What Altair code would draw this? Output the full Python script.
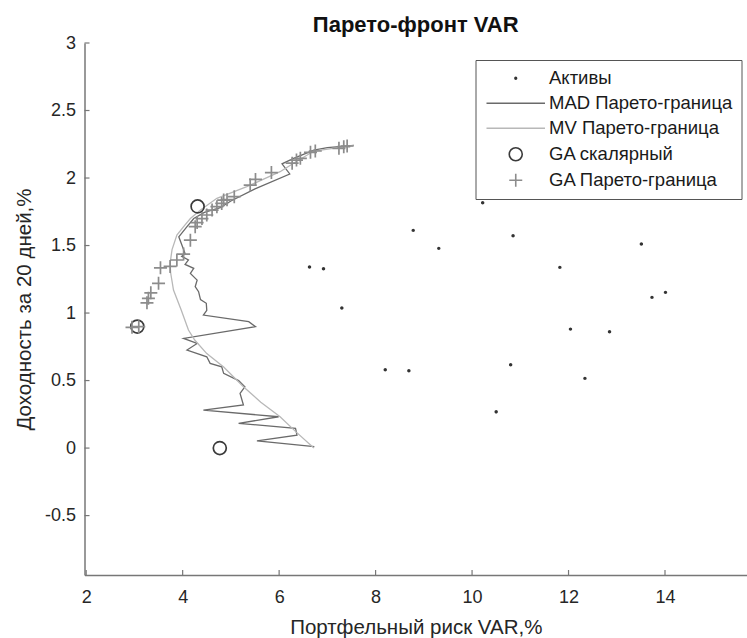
import altair as alt
import pandas as pd

# ---------------- data ----------------
assets_x = [10.22, 8.78, 9.31, 10.85, 13.51, 6.63, 6.92, 11.82, 13.73, 14.01,
            7.30, 12.04, 12.85, 8.20, 8.69, 10.80, 12.34, 10.50]
assets_y = [1.817, 1.612, 1.479, 1.573, 1.511, 1.341, 1.328, 1.338, 1.116, 1.153,
            1.037, 0.881, 0.862, 0.580, 0.573, 0.617, 0.516, 0.269]

mad_x = [6.73, 5.54, 6.37, 6.34, 5.16, 5.99, 4.43, 5.26, 5.19, 5.29, 5.16, 4.85,
         4.81, 4.57, 4.50, 4.09, 4.30, 4.02, 5.51, 5.37, 4.43, 4.50, 4.49, 4.37,
         4.33, 4.26, 4.30, 4.16, 4.23, 4.05, 4.12, 3.98, 4.05, 3.92, 4.09, 4.23,
         4.45, 4.78, 5.00, 5.50, 6.22, 6.06, 6.30, 6.72, 7.00, 7.55]
mad_y = [0.01, 0.054, 0.096, 0.146, 0.183, 0.232, 0.281, 0.319, 0.405, 0.454, 0.50, 0.553,
         0.602, 0.627, 0.676, 0.726, 0.775, 0.812, 0.899, 0.936, 0.985, 1.02, 1.072, 1.10,
         1.158, 1.195, 1.244, 1.294, 1.331, 1.36, 1.393, 1.42, 1.44, 1.565, 1.64, 1.70,
         1.745, 1.78, 1.83, 1.92, 2.03, 2.105, 2.146, 2.207, 2.225, 2.242]

mv_x = [6.72, 6.35, 6.02, 5.62, 5.26, 4.85, 4.50, 4.25, 4.12, 3.97, 3.81, 3.75,
        3.74, 3.78, 3.88, 4.02, 4.16, 4.37, 4.71, 5.33, 6.02, 6.30, 6.72, 7.55]
mv_y = [0.0, 0.12, 0.232, 0.34, 0.454, 0.60, 0.70, 0.80, 0.874, 1.022, 1.17, 1.30,
        1.37, 1.47, 1.578, 1.64, 1.70, 1.763, 1.85, 1.936, 2.047, 2.109, 2.20, 2.242]

gas_x = [4.31, 3.06, 4.77]
gas_y = [1.79, 0.90, 0.00]

gap_x = [2.95, 3.09, 3.26, 3.29, 3.34, 3.50, 3.54, 3.74, 3.88, 4.02, 4.16, 4.26,
         4.30, 4.40, 4.50, 4.61, 4.71, 4.81, 4.85, 4.92, 5.07, 5.40, 5.51, 5.84,
         6.27, 6.36, 6.44, 6.65, 6.75, 7.24, 7.34, 7.41]
gap_y = [0.894, 0.899, 1.076, 1.109, 1.15, 1.22, 1.335, 1.345, 1.393, 1.437, 1.54, 1.64,
         1.67, 1.70, 1.726, 1.763, 1.788, 1.812, 1.837, 1.84, 1.862, 1.948, 1.99, 2.04,
         2.11, 2.133, 2.146, 2.19, 2.20, 2.22, 2.232, 2.237]

x_ticks = [2, 4, 6, 8, 10, 12, 14]
y_ticks = [-0.5, 0, 0.5, 1, 1.5, 2, 2.5, 3]

S_ASSET = "Активы"
S_MAD = "MAD Парето-граница"
S_MV = "MV Парето-граница"
S_GAS = "GA скалярный"
S_GAP = "GA Парето-граница"
series_domain = [S_ASSET, S_MAD, S_MV, S_GAS, S_GAP]
series_colors = ["#333333", "#6a6a6a", "#b8b8b8", "#3a3a3a", "#8c8c8c"]
DOT = "M-0.13,0A0.13,0.13 0 1,0 0.13,0A0.13,0.13 0 1,0 -0.13,0Z"
LINE = "M-4.5,0L4.5,0"
PLUS = "M-1,0L1,0M0,-1L0,1"
series_shapes = [DOT, LINE, LINE, "circle", PLUS]

FONT = "Liberation Sans"
W, H = 662.5, 532
SYM = 169

# ---------------- frames ----------------
pts = pd.concat([
    pd.DataFrame({"x": assets_x, "y": assets_y, "series": S_ASSET}),
    pd.DataFrame({"x": gas_x, "y": gas_y, "series": S_GAS}),
    pd.DataFrame({"x": gap_x, "y": gap_y, "series": S_GAP}),
], ignore_index=True)

lines = pd.concat([
    pd.DataFrame({"x": mad_x, "y": mad_y, "series": S_MAD, "i": range(len(mad_x))}),
    pd.DataFrame({"x": mv_x, "y": mv_y, "series": S_MV, "i": range(len(mv_x))}),
], ignore_index=True)

xscale = alt.Scale(domain=[1.965, 15.7], nice=False, zero=False)
yscale = alt.Scale(domain=[-0.94, 3], nice=False, zero=False)

legend = alt.Legend(title=None, orient="none", legendX=391, legendY=17,
                    fillColor="white", strokeColor="#555555",
                    padding=9, labelFontSize=18.5, labelFont=FONT,
                    labelColor="#1a1a1a", symbolStrokeWidth=1.6,
                    symbolSize=SYM, symbolOffset=22, labelOffset=24,
                    rowPadding=6, labelLimit=300)
color = alt.Color("series:N", scale=alt.Scale(domain=series_domain, range=series_colors),
                  legend=legend)
shape = alt.Shape("series:N", scale=alt.Scale(domain=series_domain, range=series_shapes),
                  legend=legend)

xenc = alt.X("x:Q", scale=xscale,
             axis=alt.Axis(values=x_ticks, title="Портфельный риск VAR,%", grid=False,
                           tickSize=0, labelPadding=13, titlePadding=11))
yenc = alt.Y("y:Q", scale=yscale,
             axis=alt.Axis(values=y_ticks, title="Доходность за 20 дней,%", grid=False,
                           tickSize=0, labelPadding=9, titlePadding=10,
                           labelExpr="'' + datum.value"))

line_layer = alt.Chart(lines).mark_line(strokeWidth=1.3).encode(
    x=xenc, y=yenc, color=color, detail="series:N", order=alt.Order("i:Q"))

point_layer = alt.Chart(pts).mark_point(filled=False, strokeWidth=1.7, opacity=1, size=SYM).encode(
    x=xenc, y=yenc, color=color, shape=shape)

xt = alt.Chart(pd.DataFrame({"v": x_ticks})).mark_rule(color="#777777", strokeWidth=1.2).encode(
    x=alt.X("v:Q", scale=xscale), y=alt.value(H), y2=alt.value(H - 5))
yt = alt.Chart(pd.DataFrame({"v": y_ticks})).mark_rule(color="#777777", strokeWidth=1.2).encode(
    y=alt.Y("v:Q", scale=yscale), x=alt.value(0), x2=alt.value(5))

chart = alt.layer(xt, yt, line_layer, point_layer).properties(
    width=W, height=H,
    background="white",
    title=alt.TitleParams("Парето-фронт VAR", fontSize=22, fontWeight="bold", font=FONT,
                          color="#111111", anchor="middle", offset=-3),
    autosize=alt.AutoSizeParams(type="none"),
    padding={"left": 84.5, "top": 43, "right": 0, "bottom": 63},
).configure_view(stroke=None).configure_axis(
    domainColor="#777777", domainWidth=1.5, labelFont=FONT, labelFontSize=18,
    labelColor="#262626", titleFont=FONT, titleFontSize=20.5, titleFontWeight="normal",
    titleColor="#262626"
)

chart.save("out.html", embed_options={"renderer": "svg", "actions": False})
